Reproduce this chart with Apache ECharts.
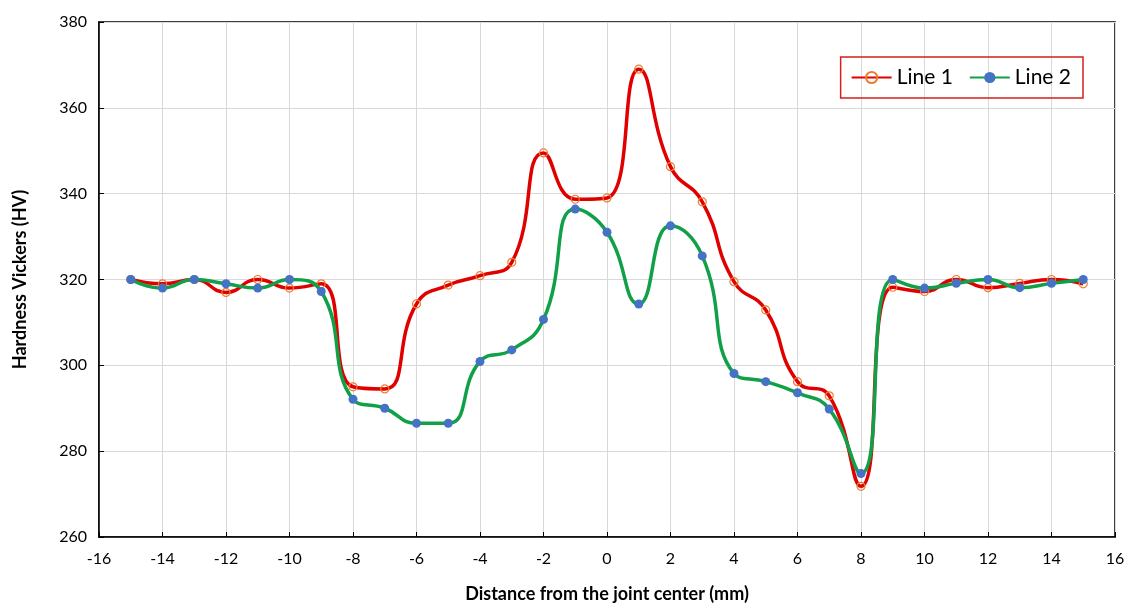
<!DOCTYPE html>
<html>
<head>
<meta charset="utf-8">
<script src="https://cdn.jsdelivr.net/npm/echarts@6/dist/echarts.min.js"></script>
<style>
html,body{margin:0;padding:0;background:#fff;}
#chart{width:1130px;height:610px;}
</style>
</head>
<body>
<div id="chart"></div>
<script>
const distances = [-15,-14,-13,-12,-11,-10,-9,-8,-7,-6,-5,-4,-3,-2,-1,0,1,2,3,4,5,6,7,8,9,10,11,12,13,14,15];
const line1 = [320,319,320,317,320,318,319,295,294.5,314.3,318.7,320.9,324,349.5,338.7,339,369,346.3,338.1,319.5,312.9,296.2,292.9,271.8,318.2,317.2,320,318.1,319.1,320,319];
const line2 = [320,318,320,319,318,320,317.2,292.1,290,286.5,286.5,300.9,303.6,310.7,336.4,331,314.3,332.5,325.5,298.1,296.2,293.6,289.8,274.8,320,318,319.1,320,318.1,319.1,320];
const seriesNames = ['Line 1','Line 2'];
const xTitle = 'Distance from the joint center (mm)';
const yTitle = 'Hardness Vickers (HV)';

const font = 'Lato, "Open Sans", sans-serif';
const chart = echarts.init(document.getElementById('chart'));
chart.setOption({
  animation:false,
  backgroundColor:'#fff',
  grid:{left:99,right:15,top:22,bottom:73,show:true,borderColor:'#000',borderWidth:1.5,containLabel:false},
  legend:{
    right:47,top:57,
    data:seriesNames,
    borderColor:'#d42020',borderWidth:1.5,
    padding:[10,12,10,10],
    itemWidth:40,itemHeight:14,itemGap:16,
    textStyle:{fontFamily:font,fontSize:21,color:'#000'}
  },
  xAxis:{
    type:'value',min:-16,max:16,interval:2,
    name:xTitle,nameLocation:'middle',nameGap:48,
    nameTextStyle:{fontFamily:font,fontSize:18,fontWeight:'bold',color:'#000'},
    axisLine:{show:true,onZero:false,lineStyle:{color:'#000',width:1.5}},
    axisTick:{show:true,inside:true,length:5,lineStyle:{color:'#000'}},
    axisLabel:{fontFamily:font,fontSize:16,color:'#000',margin:14},
    splitLine:{show:true,lineStyle:{color:'#d9d9d9',width:1}}
  },
  yAxis:{
    type:'value',min:260,max:380,interval:20,
    name:yTitle,nameLocation:'middle',nameGap:70,
    nameTextStyle:{fontFamily:font,fontSize:18,fontWeight:'bold',color:'#000'},
    axisLine:{show:true,onZero:false,lineStyle:{color:'#000',width:1.5}},
    axisTick:{show:true,inside:true,length:5,lineStyle:{color:'#000'}},
    axisLabel:{fontFamily:font,fontSize:16,color:'#000',margin:12},
    splitLine:{show:true,lineStyle:{color:'#d9d9d9',width:1}}
  },
  series:[
    {
      name:seriesNames[0],type:'line',smooth:0.5,
      data:distances.map((d,i)=>[d,line1[i]]),
      symbol:'circle',symbolSize:8,
      lineStyle:{color:'#e00000',width:3.5},
      itemStyle:{color:'rgba(255,255,255,0)',borderColor:'#ed7d31',borderWidth:1.2},
      z:2
    },
    {
      name:seriesNames[1],type:'line',smooth:0.5,
      data:distances.map((d,i)=>[d,line2[i]]),
      symbol:'circle',symbolSize:9,
      lineStyle:{color:'#10a048',width:3.5},
      itemStyle:{color:'#4472c4',borderColor:'#4472c4',borderWidth:0},
      z:3
    }
  ]
});
</script>
</body>
</html>
